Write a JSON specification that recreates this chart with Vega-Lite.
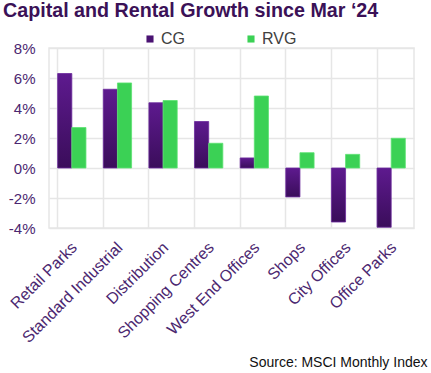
{
  "$schema": "https://vega.github.io/schema/vega-lite/v6.json",
  "width": 365,
  "height": 180,
  "autosize": "none",
  "padding": {"left": 49, "top": 48, "right": 17, "bottom": 145},
  "background": "white",
  "title": {
    "text": "Capital and Rental Growth since Mar ‘24",
    "anchor": "start",
    "frame": "group",
    "font": "Liberation Sans",
    "fontSize": 19.7,
    "fontWeight": "bold",
    "color": "#3b1157",
    "dx": -46,
    "offset": 10
  },
  "data": {
    "values": [
      {"category": "Retail Parks", "series": "CG", "value": 6.3},
      {"category": "Retail Parks", "series": "RVG", "value": 2.7},
      {"category": "Standard Industrial", "series": "CG", "value": 5.25},
      {"category": "Standard Industrial", "series": "RVG", "value": 5.67},
      {"category": "Distribution", "series": "CG", "value": 4.35},
      {"category": "Distribution", "series": "RVG", "value": 4.5},
      {"category": "Shopping Centres", "series": "CG", "value": 3.1},
      {"category": "Shopping Centres", "series": "RVG", "value": 1.65},
      {"category": "West End Offices", "series": "CG", "value": 0.67},
      {"category": "West End Offices", "series": "RVG", "value": 4.8},
      {"category": "Shops", "series": "CG", "value": -1.93},
      {"category": "Shops", "series": "RVG", "value": 1.02},
      {"category": "City Offices", "series": "CG", "value": -3.6},
      {"category": "City Offices", "series": "RVG", "value": 0.91},
      {"category": "Office Parks", "series": "CG", "value": -3.95},
      {"category": "Office Parks", "series": "RVG", "value": 1.98}
    ]
  },
  "encoding": {
    "x": {
      "field": "category",
      "type": "nominal",
      "sort": null,
      "scale": {"paddingInner": 0.38, "paddingOuter": 0.19},
      "axis": {
        "labelAngle": -45,
        "labelFont": "Liberation Sans",
        "labelFontSize": 16,
        "labelColor": "#4b2770",
        "ticks": false,
        "domain": false,
        "grid": true,
        "gridColor": "#e6e6e6",
        "gridWidth": 1.5,
        "labelPadding": 11,
        "labelOffset": -3,
        "bandPosition": 0,
        "title": "Source: MSCI Monthly Index",
        "titleFont": "Liberation Sans",
        "titleFontSize": 14,
        "titleFontWeight": "normal",
        "titleColor": "#111111",
        "titleAlign": "right",
        "titleBaseline": "alphabetic",
        "titleX": 378,
        "titleY": 138
      }
    },
    "xOffset": {"field": "series", "type": "nominal", "scale": {"domain": ["CG", "RVG"]}},
    "y": {
      "field": "value",
      "type": "quantitative",
      "scale": {"domain": [-4, 8], "nice": false},
      "axis": {
        "values": [-4, -2, 0, 2, 4, 6, 8],
        "labelExpr": "datum.value + '%'",
        "labelFont": "Liberation Sans",
        "labelFontSize": 15,
        "labelColor": "#4b2770",
        "labelPadding": 14,
        "ticks": false,
        "domain": false,
        "gridColor": "#e6e6e6",
        "gridWidth": 1.5,
        "title": null
      }
    }
  },
  "layer": [
    {
      "transform": [{"filter": "datum.series === 'CG'"}],
      "mark": {
        "type": "bar",
        "color": {"gradient": "linear", "x1": 0, "y1": 0, "x2": 0, "y2": 1, "stops": [{"offset": 0, "color": "#5e1a8f"}, {"offset": 1, "color": "#3a0d5a"}]},
        "stroke": "#6b2a9c",
        "strokeWidth": 0.8
      }
    },
    {
      "transform": [{"filter": "datum.series === 'RVG'"}],
      "mark": {"type": "bar", "color": "#3bd155", "stroke": "#5ce271", "strokeWidth": 0.8}
    },
    {
      "mark": {"type": "bar", "opacity": 0},
      "encoding": {
        "color": {
          "field": "series",
          "type": "nominal",
          "scale": {"domain": ["CG", "RVG"], "range": ["#4a1272", "#3bd155"]},
          "legend": {
            "orient": "none",
            "legendX": 93,
            "legendY": -17,
            "direction": "horizontal",
            "title": null,
            "symbolType": "square",
            "symbolSize": 50,
            "symbolOpacity": 1,
            "labelFont": "Liberation Sans",
            "labelFontSize": 16,
            "labelColor": "#404040",
            "columnPadding": 58,
            "symbolOffset": 0,
            "labelOffset": 3
          }
        }
      }
    }
  ],
  "config": {
    "view": {"stroke": "#e6e6e6", "strokeWidth": 1.5}
  }
}
